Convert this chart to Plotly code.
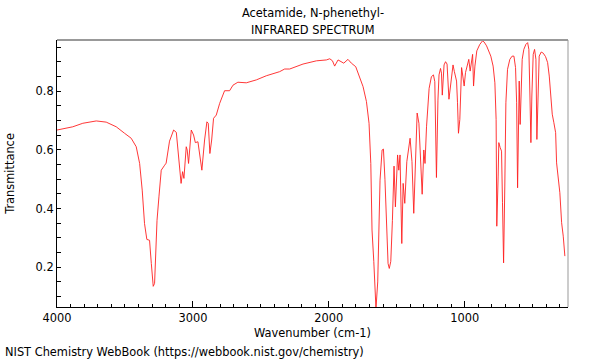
import plotly.graph_objects as go

title_lines = ["Acetamide, N-phenethyl-", "INFRARED SPECTRUM"]
x_label = "Wavenumber (cm-1)"
y_label = "Transmittance"
credit = "NIST Chemistry WebBook (https://webbook.nist.gov/chemistry)"

wavenumber = [
    4000, 3884, 3810, 3711, 3638, 3564, 3503, 3454, 3417, 3392, 3373, 3356, 3339, 3319, 3306,
    3292, 3282, 3270, 3264, 3250, 3233, 3208, 3197, 3172, 3142, 3122, 3103, 3087, 3076, 3066,
    3049, 3042, 3032, 3012, 2995, 2982, 2963, 2951, 2934, 2914, 2897, 2887, 2875, 2862, 2848,
    2828, 2803, 2767, 2730, 2705, 2669, 2607, 2533, 2460, 2362, 2325, 2288, 2190, 2091, 2018,
    1993, 1973, 1957, 1932, 1907, 1890, 1859, 1834, 1802, 1772, 1748, 1723, 1704, 1691, 1682,
    1669, 1653, 1640, 1623, 1608, 1598, 1587, 1576, 1564, 1555, 1544, 1532, 1520, 1510, 1502,
    1494, 1485, 1476, 1463, 1453, 1441, 1426, 1402, 1388, 1375, 1362, 1350, 1337, 1325, 1313,
    1301, 1292, 1281, 1262, 1245, 1230, 1220, 1208, 1197, 1189, 1178, 1171, 1165, 1152, 1141,
    1130, 1116, 1104, 1086, 1076, 1068, 1060, 1053, 1046, 1036, 1023, 1014, 1004, 994, 979,
    970, 960, 950, 942, 935, 925, 911, 889, 869, 857, 839, 828, 808, 791, 778,
    769, 764, 754, 749, 739, 729, 722, 714, 705, 697, 685, 668, 651, 638, 626,
    618, 611, 604, 599, 592, 584, 577, 565, 550, 537, 528, 520, 513, 506, 496,
    486, 476, 469, 462, 452, 437, 422, 405, 390, 378, 366, 356, 344, 331, 324,
    309, 300, 287, 275, 263,
]
transmittance = [
    0.668, 0.679, 0.691, 0.699, 0.695, 0.679, 0.657, 0.640, 0.611, 0.554, 0.463, 0.349, 0.295, 0.292, 0.213,
    0.135, 0.145, 0.327, 0.360, 0.440, 0.531, 0.548, 0.555, 0.630, 0.668, 0.660, 0.560, 0.486, 0.526, 0.503,
    0.611, 0.600, 0.554, 0.668, 0.651, 0.625, 0.628, 0.588, 0.531, 0.634, 0.696, 0.691, 0.588, 0.634, 0.708,
    0.719, 0.759, 0.802, 0.802, 0.821, 0.831, 0.829, 0.839, 0.853, 0.867, 0.876, 0.876, 0.893, 0.904, 0.907,
    0.911, 0.904, 0.886, 0.907, 0.901, 0.896, 0.909, 0.896, 0.884, 0.850, 0.816, 0.765, 0.691, 0.554, 0.327,
    0.220, 0.059, 0.150, 0.497, 0.600, 0.603, 0.500, 0.327, 0.213, 0.196, 0.220, 0.360, 0.545, 0.406, 0.490,
    0.583, 0.531, 0.583, 0.281, 0.486, 0.418, 0.560, 0.640, 0.560, 0.384, 0.600, 0.726, 0.691, 0.574, 0.449,
    0.600, 0.554, 0.679, 0.810, 0.850, 0.856, 0.833, 0.506, 0.770, 0.856, 0.878, 0.862, 0.787, 0.890, 0.901,
    0.893, 0.773, 0.813, 0.890, 0.867, 0.850, 0.835, 0.761, 0.657, 0.704, 0.881, 0.852, 0.818, 0.864, 0.898,
    0.909, 0.869, 0.898, 0.926, 0.818, 0.886, 0.938, 0.960, 0.972, 0.968, 0.955, 0.943, 0.920, 0.886, 0.829,
    0.704, 0.340, 0.511, 0.625, 0.608, 0.596, 0.420, 0.215, 0.477, 0.761, 0.875, 0.909, 0.920, 0.920, 0.881,
    0.761, 0.471, 0.647, 0.835, 0.687, 0.818, 0.909, 0.943, 0.960, 0.966, 0.943, 0.784, 0.625, 0.784, 0.926,
    0.943, 0.909, 0.636, 0.761, 0.920, 0.934, 0.930, 0.918, 0.898, 0.852, 0.761, 0.722, 0.693, 0.659, 0.556,
    0.500, 0.454, 0.352, 0.306, 0.238,
]

x_range = [4000, 240]
y_range = [0.0645, 0.975]
x_ticks = [4000, 3000, 2000, 1000]
y_ticks = [0.2, 0.4, 0.6, 0.8]

FONT = "DejaVu Sans"
FS = 11.4
L, R, T, B = 57, 32, 40, 53
plot_w = 600 - L - R

fig = go.Figure()
fig.add_trace(go.Scatter(
    x=wavenumber, y=transmittance, mode="lines",
    line=dict(color="#ff2020", width=0.9), hoverinfo="skip", showlegend=False,
))

fig.update_layout(
    width=600, height=360,
    margin=dict(l=L, r=R, t=T, b=B, autoexpand=False),
    paper_bgcolor="white", plot_bgcolor="white",
    font=dict(family=FONT, size=FS, color="black"),
    showlegend=False,
)
fig.update_xaxes(
    range=x_range, tickvals=x_ticks, ticktext=[str(v) for v in x_ticks],
    ticks="inside", ticklen=6, tickcolor="black", tickwidth=1,
    showline=True, linecolor="black", linewidth=1, showgrid=False, zeroline=False,
    minor=dict(dtick=100, tick0=0, ticks="inside", ticklen=3, tickcolor="black", showgrid=False),
    title=dict(text=x_label, standoff=5, font=dict(family=FONT, size=FS)),
    tickfont=dict(family=FONT, size=FS), automargin=False,
)
fig.update_yaxes(
    range=y_range, tickvals=y_ticks, ticktext=[f"{v:.1f}" for v in y_ticks],
    ticks="inside", ticklen=4, tickcolor="black", tickwidth=1,
    showline=True, linecolor="black", linewidth=1, showgrid=False, zeroline=False,
    minor=dict(dtick=0.05, tick0=0, ticks="inside", ticklen=4, tickcolor="black", showgrid=False),
    title=dict(text=y_label, standoff=18, font=dict(family=FONT, size=FS)),
    tickfont=dict(family=FONT, size=FS), automargin=False,
)
fig.add_shape(type="line", xref="paper", yref="paper", x0=0, x1=1, y0=1, y1=1,
              line=dict(color="#999999", width=2))
fig.add_shape(type="line", xref="paper", yref="paper", x0=1, x1=1, y0=0, y1=1,
              line=dict(color="#999999", width=1))
for line_text, shift in zip(title_lines, [27, 10]):
    fig.add_annotation(text=line_text, xref="paper", yref="paper", x=0.5, xanchor="center",
                       y=1, yanchor="middle", yshift=shift, showarrow=False,
                       font=dict(family=FONT, size=FS, color="black"))
fig.add_annotation(text=credit, xref="paper", yref="paper", x=(3 - L) / plot_w, xanchor="left",
                   y=0, yanchor="middle", yshift=-45, showarrow=False,
                   font=dict(family=FONT, size=FS, color="black"))

fig.write_html("out.html", config={"displayModeBar": False},
               post_script="document.body.style.margin='0';document.body.style.padding='0';")
